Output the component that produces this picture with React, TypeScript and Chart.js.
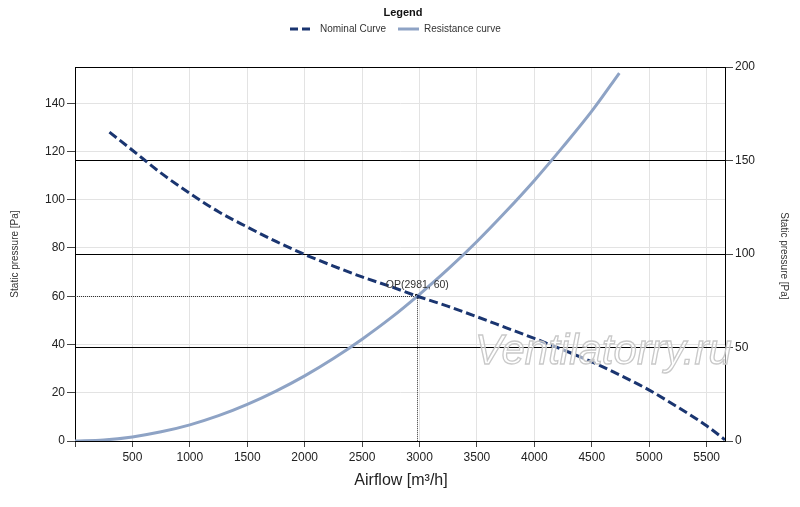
import React, { useEffect, useRef } from "react";
import { Chart, registerables } from "chart.js";

Chart.register(...registerables);

// ---- data ----
const nominalAirflow = [300, 500, 750, 1000, 1250, 1500, 1750, 2000, 2250, 2500, 2750, 2981, 3250, 3500, 3750, 4000, 4250, 4500, 4750, 5000, 5250, 5500, 5660];
const nominalPressure = [128, 120.5, 111, 102.6, 95, 88.7, 82.7, 77.3, 72.5, 68, 64, 60, 55.8, 51.5, 47, 42.5, 37.8, 32.8, 27.2, 21.1, 14.0, 6.3, 0.5];

const resistanceAirflow = [0, 250, 500, 750, 1000, 1250, 1500, 1750, 2000, 2250, 2500, 2750, 3000, 3250, 3500, 3750, 4000, 4250, 4500, 4740];
const resistancePressure = [0, 0.4, 1.7, 3.8, 6.7, 10.5, 15.2, 20.7, 27, 34.2, 42.2, 51, 60.8, 71.3, 82.7, 95, 108, 122, 136.7, 152.5];

const opAirflow = 2981;
const opPressure = 60;

const xMin = 0;
const xMax = 5660;
const xTickValues = [0, 500, 1000, 1500, 2000, 2500, 3000, 3500, 4000, 4500, 5000, 5500];
const yLeftMax = 155;
const yLeftTickValues = [0, 20, 40, 60, 80, 100, 120, 140];
const yRightMax = 200;
const yRightTickValues = [0, 50, 100, 150, 200];

const seriesNames = ["Nominal Curve", "Resistance curve"];
const legendTitle = "Legend";
const xTitle = "Airflow [m³/h]";
const yTitle = "Static pressure [Pa]";
const watermark = "Ventilatorry.ru";

const NAVY = "#1a3570";
const STEEL = "#8ea3c5";
const FONT = "'Liberation Sans', Arial, sans-serif";

const setTicks = (values: number[]) => (s: any) => {
  s.ticks = values.map((v) => ({ value: v }));
};

const decorPlugin = {
  id: "decor",
  beforeDatasetsDraw(chart: any) {
    const { ctx, chartArea, scales } = chart;
    const px = scales.x.getPixelForValue(opAirflow);
    const py = scales.y.getPixelForValue(opPressure);
    ctx.save();
    ctx.strokeStyle = "#333";
    ctx.lineWidth = 1;
    ctx.setLineDash([1, 1]);
    ctx.beginPath();
    ctx.moveTo(chartArea.left, Math.round(py) + 0.5);
    ctx.lineTo(px, Math.round(py) + 0.5);
    ctx.moveTo(Math.round(px) + 0.5, py);
    ctx.lineTo(Math.round(px) + 0.5, chartArea.bottom);
    ctx.stroke();
    ctx.restore();
  },
  afterDatasetsDraw(chart: any) {
    const { ctx, scales } = chart;
    const px = scales.x.getPixelForValue(opAirflow);
    const py = scales.y.getPixelForValue(opPressure);
    ctx.save();
    // OP label
    ctx.fillStyle = "#333";
    ctx.font = `10.5px ${FONT}`;
    ctx.textAlign = "center";
    ctx.textBaseline = "alphabetic";
    ctx.fillText(`OP(${opAirflow}, ${opPressure})`, px, py - 8);
    // watermark
    ctx.font = `italic 42px ${FONT}`;
    ctx.textAlign = "left";
    ctx.fillStyle = "rgba(255,255,255,0.55)";
    ctx.fillText(watermark, 475, 364);
    ctx.strokeStyle = "#c9c9c9";
    ctx.lineWidth = 1.3;
    ctx.strokeText(watermark, 475, 364);
    ctx.restore();
  },
  afterDraw(chart: any) {
    const { ctx, chartArea } = chart;
    ctx.save();
    // legend
    ctx.fillStyle = "#111";
    ctx.font = `bold 11px ${FONT}`;
    ctx.textAlign = "center";
    ctx.textBaseline = "middle";
    ctx.fillText(legendTitle, 403, 13);

    ctx.lineWidth = 3;
    ctx.strokeStyle = NAVY;
    ctx.setLineDash([8, 4]);
    ctx.beginPath();
    ctx.moveTo(290, 29);
    ctx.lineTo(312, 29);
    ctx.stroke();
    ctx.setLineDash([]);
    ctx.strokeStyle = STEEL;
    ctx.beginPath();
    ctx.moveTo(398, 29);
    ctx.lineTo(419, 29);
    ctx.stroke();

    ctx.fillStyle = "#333";
    ctx.font = `10px ${FONT}`;
    ctx.textAlign = "left";
    ctx.fillText(seriesNames[0], 320, 29);
    ctx.fillText(seriesNames[1], 424, 29);

    // axis titles
    ctx.font = `16px ${FONT}`;
    ctx.textAlign = "center";
    ctx.textBaseline = "alphabetic";
    ctx.fillStyle = "#222";
    ctx.fillText(xTitle, (chartArea.left + chartArea.right) / 2 + 1, 485);

    const cy = (chartArea.top + chartArea.bottom) / 2;
    ctx.font = `10px ${FONT}`;
    ctx.fillStyle = "#333";
    ctx.textBaseline = "middle";
    ctx.save();
    ctx.translate(15, cy);
    ctx.rotate(-Math.PI / 2);
    ctx.fillText(yTitle, 0, 0);
    ctx.restore();
    ctx.save();
    ctx.translate(784, cy + 2);
    ctx.rotate(Math.PI / 2);
    ctx.fillText(yTitle, 0, 0);
    ctx.restore();
    ctx.restore();
  },
};

export default function App() {
  const ref = useRef<HTMLCanvasElement | null>(null);
  useEffect(() => {
    document.body.style.margin = "0";
    if (!ref.current) return;
    const tickFont = { family: FONT, size: 12 };
    const chart = new Chart(ref.current, {
      type: "line",
      data: {
        datasets: [
          {
            label: seriesNames[0],
            data: nominalAirflow.map((x, i) => ({ x, y: nominalPressure[i] })),
            borderColor: NAVY,
            borderWidth: 3,
            borderDash: [9, 4],
            pointRadius: 0,
            cubicInterpolationMode: "monotone",
            fill: false,
            yAxisID: "y",
          },
          {
            label: seriesNames[1],
            data: resistanceAirflow.map((x, i) => ({ x, y: resistancePressure[i] })),
            borderColor: STEEL,
            borderWidth: 3,
            pointRadius: 0,
            cubicInterpolationMode: "monotone",
            fill: false,
            yAxisID: "y",
          },
          {
            type: "scatter",
            label: "OP",
            data: [{ x: opAirflow, y: opPressure }],
            pointStyle: "rect",
            pointRadius: 2.5,
            backgroundColor: "#000",
            borderColor: "#000",
            borderWidth: 1,
            yAxisID: "y",
          } as any,
        ],
      },
      options: {
        animation: false,
        responsive: true,
        maintainAspectRatio: false,
        layout: { padding: { top: 67, left: 0, right: 0, bottom: 0 } },
        plugins: {
          legend: { display: false },
          tooltip: { enabled: false },
        },
        scales: {
          x: {
            type: "linear",
            position: "bottom",
            min: xMin,
            max: xMax,
            afterBuildTicks: setTicks(xTickValues),
            afterFit: (s: any) => {
              s.height = 66;
            },
            ticks: {
              autoSkip: false,
              maxRotation: 0,
              padding: 3,
              color: "#222",
              font: tickFont,
              callback: (v: any) => (v === 0 ? "" : String(v)),
            },
            grid: { color: "#e3e3e3", tickColor: "#444", tickLength: 6, z: -2 } as any,
            border: { color: "#000", width: 1 },
          },
          y: {
            type: "linear",
            position: "left",
            min: 0,
            max: yLeftMax,
            afterBuildTicks: setTicks(yLeftTickValues),
            afterFit: (s: any) => {
              s.width = 75;
            },
            ticks: {
              autoSkip: false,
              padding: 2,
              color: "#222",
              font: tickFont,
              callback: (v: any) => String(v),
            },
            grid: { color: "#e3e3e3", tickColor: "#444", tickLength: 8, z: -2 } as any,
            border: { color: "#000", width: 1 },
          },
          y2: {
            type: "linear",
            position: "right",
            min: 0,
            max: yRightMax,
            afterBuildTicks: setTicks(yRightTickValues),
            afterFit: (s: any) => {
              s.width = 75;
            },
            ticks: {
              autoSkip: false,
              padding: 2,
              color: "#222",
              font: tickFont,
              callback: (v: any) => String(v),
            },
            grid: { color: "#000", tickColor: "#444", tickLength: 8, z: -1 } as any,
            border: { color: "#000", width: 1 },
          },
        },
      },
      plugins: [decorPlugin],
    });
    return () => chart.destroy();
  }, []);
  return (
    <div style={{ position: "relative", width: 800, height: 507 }}>
      <canvas ref={ref} />
    </div>
  );
}
